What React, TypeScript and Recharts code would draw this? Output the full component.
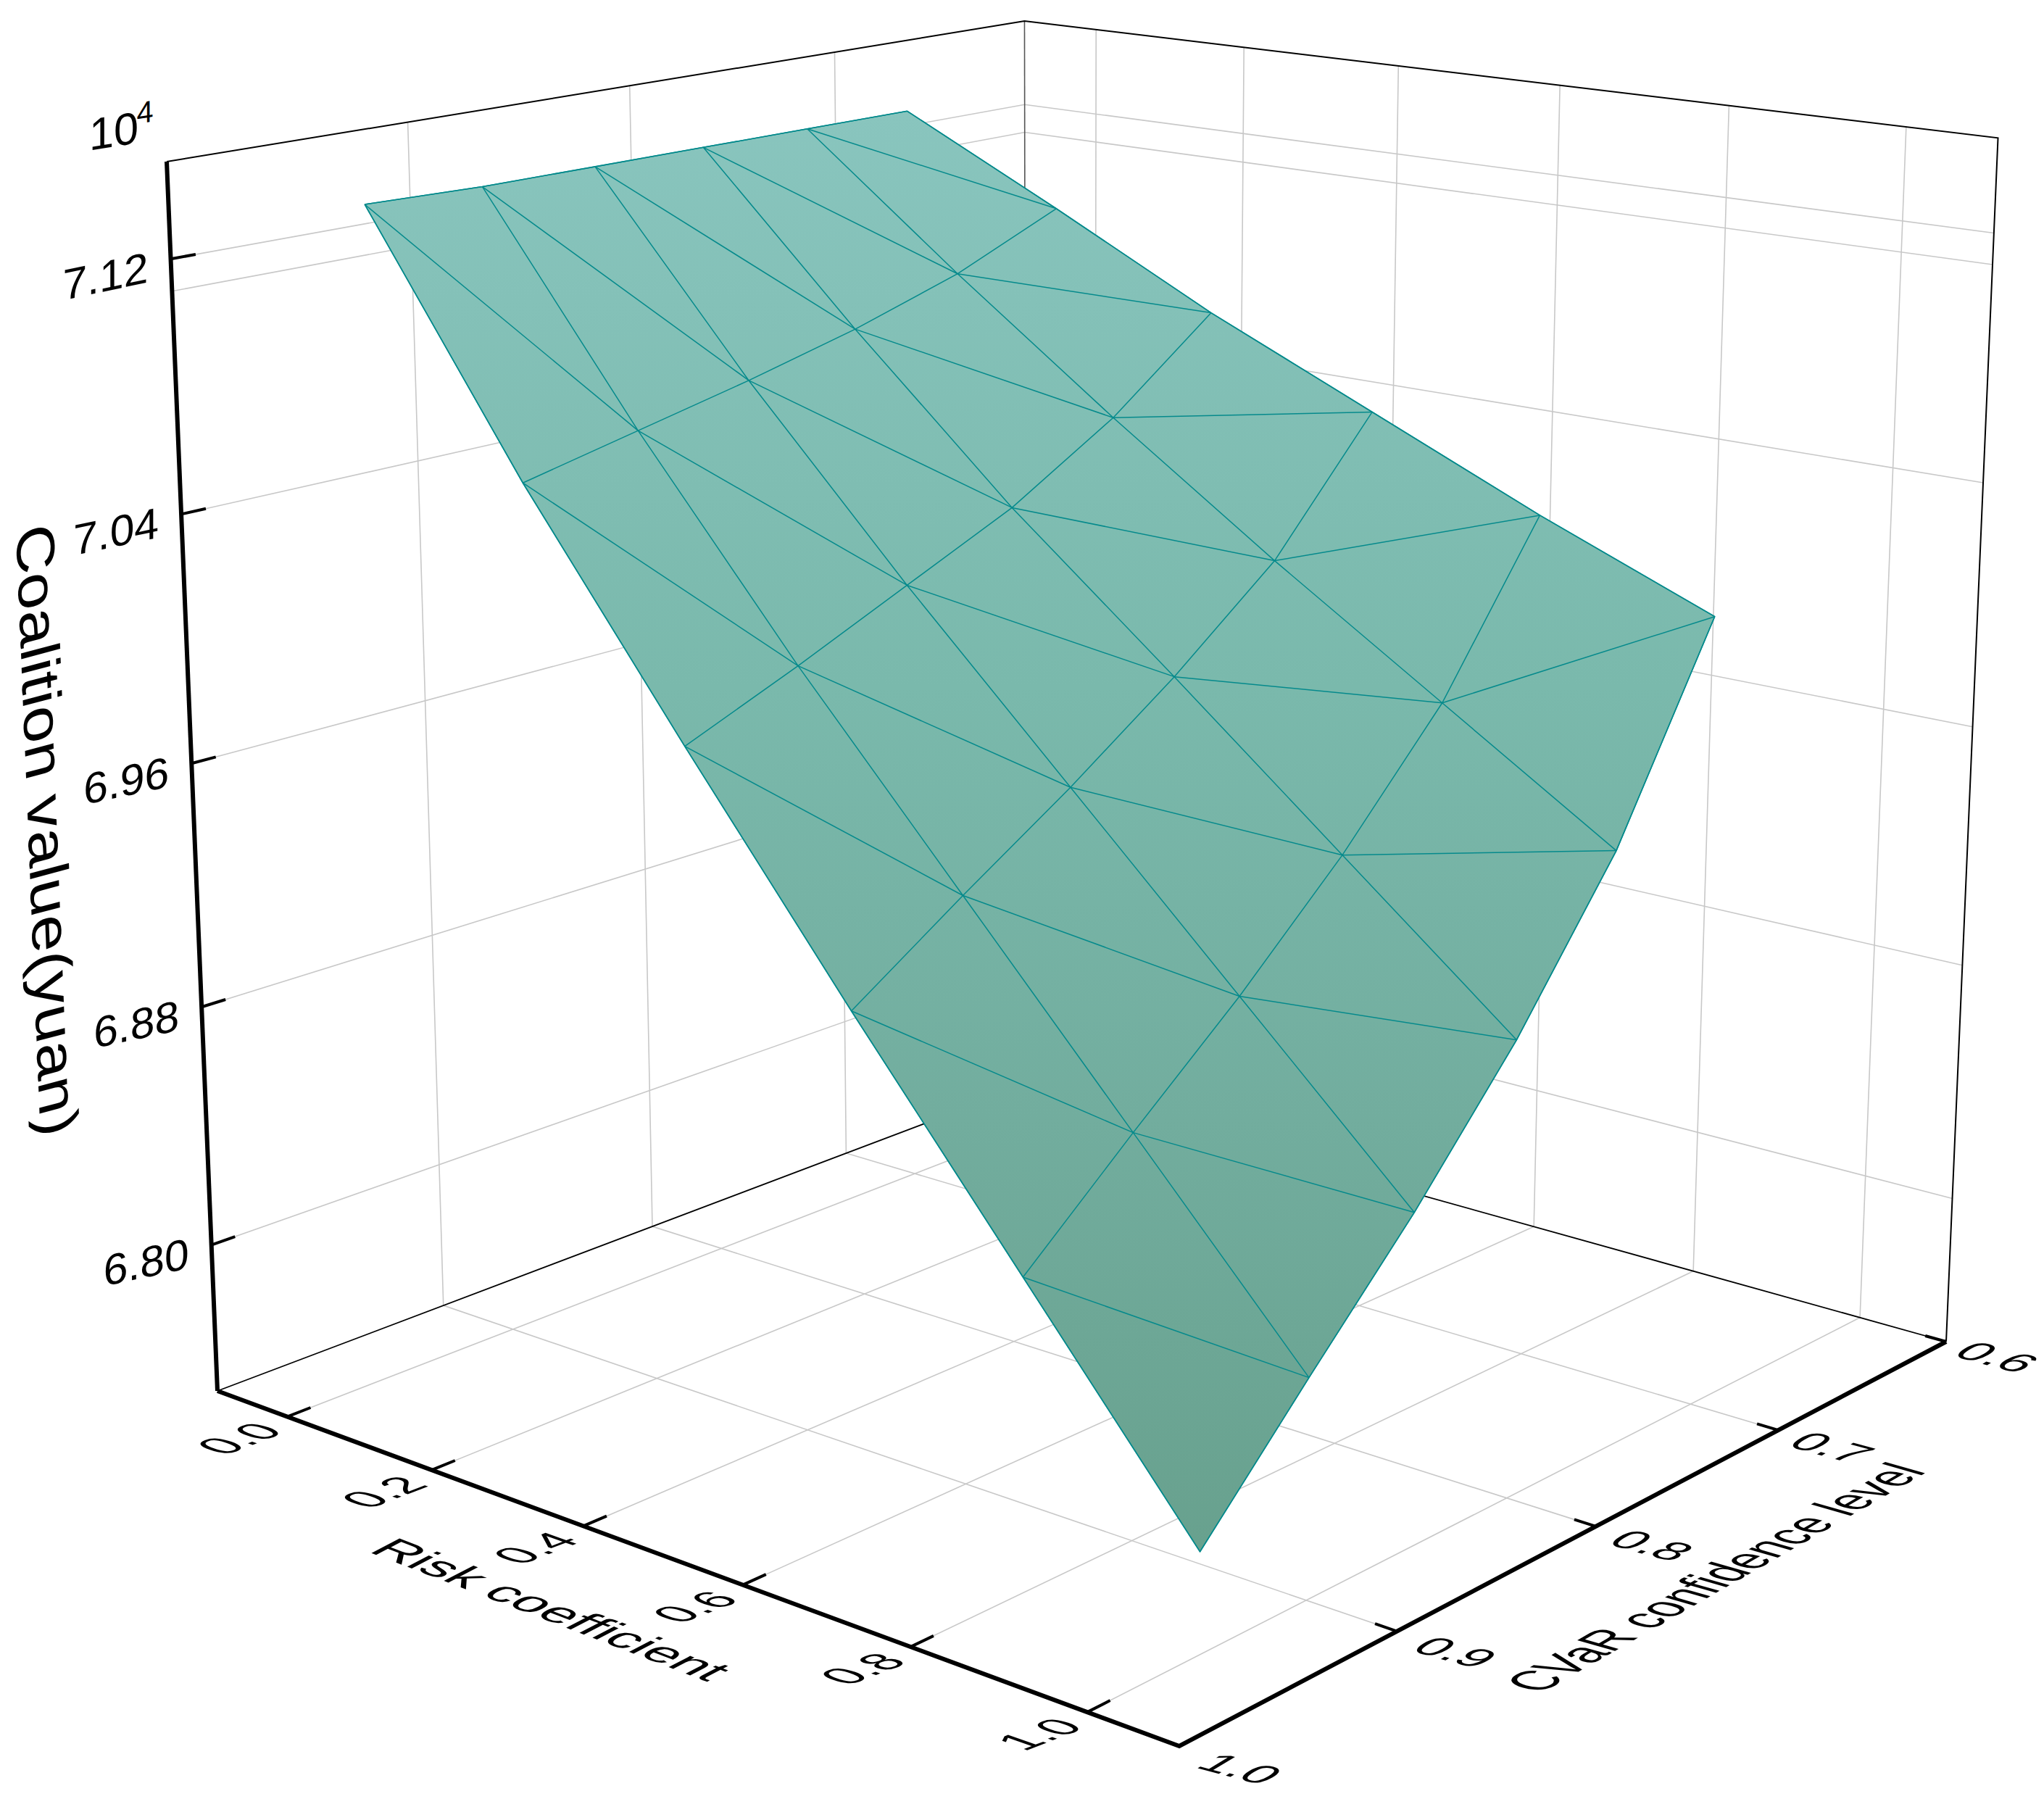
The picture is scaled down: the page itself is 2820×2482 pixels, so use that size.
import React from "react";
import { ScatterChart, Scatter, XAxis, YAxis } from "recharts";

const W = 2820;
const H = 2482;

const riskTicks = [0, 0.2, 0.4, 0.6, 0.8, 1];
const confTicks = [1, 0.9, 0.8, 0.7, 0.6];
const zTicks = [7.12, 7.04, 6.96, 6.88, 6.8];
const zGrid = [7.12, 7.11, 7.04, 6.96, 6.88, 6.8];
const riskGrid = [0, 0.2, 0.4, 0.6, 0.8, 1];
const confGrid = [0.95, 0.9, 0.85, 0.8, 0.75, 0.7];

const valuesRisk00 = [7.134, 7.133, 7.133, 7.133, 7.133, 7.133];
const valuesRisk02 = [7.056, 7.064, 7.072, 7.081, 7.092, 7.107];
const valuesRisk04 = [6.985, 7.0, 7.016, 7.032, 7.053, 7.08];
const valuesRisk06 = [6.916, 6.94, 6.963, 6.988, 7.016, 7.056];
const valuesRisk08 = [6.849, 6.88, 6.91, 6.943, 6.981, 7.032];
const valuesRisk10 = [6.782, 6.82, 6.857, 6.898, 6.946, 7.01];
const coalitionValues = [valuesRisk00, valuesRisk02, valuesRisk04, valuesRisk06, valuesRisk08, valuesRisk10];

const riskMin = -0.1, riskMax = 1.1, confMin = 0.6, confMax = 1, zMin = 6.75, zMax = 7.15;

// camera calibration: where the box corners land on the page
const A = [300, 1919], B = [1627, 2409], C = [2685, 1851], D = [1416, 1497], Et = [230, 223], Ct = [2760, 196];

type V3 = number[];
const hom = (p: number[]): V3 => [p[0] / 1000, p[1] / 1000, 1];
const det3 = (a: V3, b: V3, c: V3) =>
  a[0] * (b[1] * c[2] - b[2] * c[1]) - a[1] * (b[0] * c[2] - b[2] * c[0]) + a[2] * (b[0] * c[1] - b[1] * c[0]);
const sub = (a: V3, b: V3) => a.map((v, i) => v - b[i]);
const scale = (a: V3, s: number) => a.map((v) => v * s);
const dot = (a: V3, b: V3) => a[0] * b[0] + a[1] * b[1] + a[2] * b[2];

const ha = hom(A), hb = hom(B), hc = hom(C), hd = hom(D), he = hom(Et), hct = hom(Ct);
const d0 = det3(hb, hd, ha);
const wB = det3(hc, hd, ha) / d0;
const wD = det3(hb, hc, ha) / d0;
const wA = -det3(hb, hd, hc) / d0;
const P0 = scale(ha, wA);
const Pu = sub(scale(hb, wB), P0);
const Pv = sub(scale(hd, wD), P0);
const R = sub(P0, hc);
const a11 = dot(he, he), a12 = -dot(he, hct), a22 = dot(hct, hct);
const b1 = dot(he, R), b2 = -dot(hct, R);
const wE = (b1 * a22 - b2 * a12) / (a11 * a22 - a12 * a12);
const Pw = sub(scale(he, wE), P0);

const project = (risk: number, conf: number, z: number) => {
  const u = (risk - riskMin) / (riskMax - riskMin);
  const v = (confMax - conf) / (confMax - confMin);
  const w = (z - zMin) / (zMax - zMin);
  const h = [0, 1, 2].map((i) => P0[i] + u * Pu[i] + v * Pv[i] + w * Pw[i]);
  return { x: (1000 * h[0]) / h[2], y: (1000 * h[1]) / h[2] };
};
const shift = (p: { x: number; y: number }, dx: number, dy: number, label: string) => ({ x: p.x + dx, y: p.y + dy, label });

const vertex = (i: number, j: number) => project(riskGrid[i], confGrid[j], coalitionValues[i][j]);
const idx = riskGrid.map((_, i) => i);
const jdx = confGrid.map((_, j) => j);
const last = confGrid.length - 1;

const surfaceOutline = [
  ...jdx.map((j) => vertex(0, j)),
  ...idx.map((i) => vertex(i, last)),
  ...jdx.map((j) => vertex(last, last - j)),
  ...idx.map((i) => vertex(last - i, 0)),
];
const meshRows = idx.map((i) => jdx.map((j) => vertex(i, j)));
const meshCols = jdx.map((j) => idx.map((i) => vertex(i, j)));
const meshDiagonals = idx.slice(0, -1).flatMap((i) => jdx.slice(0, -1).map((j) => [vertex(i, j), vertex(i + 1, j + 1)]));

const gridLines = [
  ...riskTicks.map((r) => [project(r, confMax, zMin), project(r, confMin, zMin), project(r, confMin, zMax)]),
  ...confTicks.slice(1, -1).map((c) => [project(riskMax, c, zMin), project(riskMin, c, zMin), project(riskMin, c, zMax)]),
  ...zGrid.map((z) => [project(riskMin, confMax, z), project(riskMin, confMin, z), project(riskMax, confMin, z)]),
];
const topEdges = [project(riskMin, confMax, zMax), project(riskMin, confMin, zMax), project(riskMax, confMin, zMax), project(riskMax, confMin, zMin)];
const floorEdges = [project(riskMin, confMax, zMin), project(riskMin, confMin, zMin), project(riskMax, confMin, zMin)];
const backEdge = [project(riskMin, confMin, zMin), project(riskMin, confMin, zMax)];
const zAxisLine = [project(riskMin, confMax, zMax), project(riskMin, confMax, zMin)];
const floorAxes = [project(riskMin, confMax, zMin), project(riskMax, confMax, zMin), project(riskMax, confMin, zMin)];
const tickMarks = [
  ...zTicks.map((z) => [project(riskMin, confMax, z), project(riskMin, 0.99, z)]),
  ...riskTicks.map((r) => [project(r, confMax, zMin), project(r, 0.99, zMin)]),
  ...confTicks.slice(1).map((c) => [project(riskMax, c, zMin), project(1.076, c, zMin)]),
];

const zLabels = zTicks.map((z) => shift(project(riskMin, confMax, z), -90, 23, z.toFixed(2)));
const riskLabels = riskTicks.map((r) => shift(project(r, confMax, zMin), -67, 30, r.toFixed(1)));
const confLabels = confTicks.map((c) => shift(project(riskMax, c, zMin), 71 + (c - 0.6) * 35, 21 + (c - 0.6) * 25, c.toFixed(1)));
const exponentBase = [shift(project(riskMin, confMax, zMax), -73, -43, "10")];
const exponentPower = [shift(project(riskMin, confMax, zMax), -30, -69, "4")];
const zTitle = [shift(project(riskMin, confMax, 6.95), -227, 56, "Coalition value(yuan)")];
const riskTitle = [shift(project(0.5, confMax, zMin), -172, 85, "Risk coefficient")];
const confTitle = [shift(project(riskMax, 0.8, zMin), 190, 78, "CVaR confidence level")];

const noDot = () => <g />;

const textShape = (m: number[], size: number, dy: string) => (p: any) => (
  <text
    transform={`matrix(${m[0]} ${m[1]} ${m[2]} ${m[3]} ${p.cx} ${p.cy})`}
    fontSize={size}
    fontFamily="Liberation Sans"
    textAnchor="middle"
    dy={dy}
    fill="#000"
  >
    {p.payload.label}
  </text>
);

const Polyline = (points: { x: number; y: number }[], stroke: string, width: number, key: string) => (
  <Scatter
    key={key}
    data={points}
    line={{ stroke, strokeWidth: width, fill: "none" }}
    shape={noDot}
    isAnimationActive={false}
  />
);

const Labels = (data: any[], m: number[], size: number, key: string, dy = ".36em") => (
  <Scatter key={key} data={data} shape={textShape(m, size, dy)} isAnimationActive={false} />
);

export default function App() {
  return (
    <div style={{ position: "absolute", left: 0, top: 0, width: W, height: H, background: "#fff" }}>
      <ScatterChart width={W} height={H} margin={{ top: 0, right: 0, bottom: 0, left: 0 }}>
        <defs>
          <linearGradient id="surfaceFill" gradientUnits="userSpaceOnUse" x1="0" y1="150" x2="0" y2="2140">
            <stop offset="0" stopColor="#89c5be" />
            <stop offset="0.4" stopColor="#7ab9ac" />
            <stop offset="0.7" stopColor="#72ad9e" />
            <stop offset="1" stopColor="#68a18e" />
          </linearGradient>
        </defs>
        <XAxis type="number" dataKey="x" domain={[0, W]} hide />
        <YAxis type="number" dataKey="y" domain={[0, H]} reversed hide />

        {gridLines.map((l, i) => Polyline(l, "#c8c8c8", 1.6, `grid-${i}`))}
        {Polyline(backEdge, "#555", 1.6, "back")}
        {Polyline(topEdges, "#000", 2, "top")}
        {Polyline(floorEdges, "#000", 1.8, "floor")}

        <Scatter
          data={surfaceOutline}
          line={{ fill: "url(#surfaceFill)", stroke: "#058a8c", strokeWidth: 1.6 }}
          shape={noDot}
          isAnimationActive={false}
        />
        {meshRows.map((l, i) => Polyline(l, "#058a8c", 1.5, `row-${i}`))}
        {meshCols.map((l, i) => Polyline(l, "#058a8c", 1.5, `col-${i}`))}
        {meshDiagonals.map((l, i) => Polyline(l, "#058a8c", 1.5, `diag-${i}`))}

        {Polyline(zAxisLine, "#000", 6, "z-axis")}
        {Polyline(floorAxes, "#000", 6, "floor-axes")}
        {tickMarks.map((l, i) => Polyline(l, "#000", 4, `tick-${i}`))}

        {Labels(zLabels, [0.978, -0.208, 0, 0.97], 62, "z-labels")}
        {Labels(riskLabels, [0.934, -0.358, 0.94, 0.33], 66, "risk-labels")}
        {Labels(confLabels, [0.966, 0.26, -0.7, 0.42], 70, "conf-labels")}
        {Labels(exponentBase, [0.988, -0.156, 0, 1], 62, "exp-base")}
        {Labels(exponentPower, [0.988, -0.156, 0, 1], 42, "exp-power")}
        {Labels(zTitle, [0.04, 1, -0.83, 0.22], 89.5, "z-title", "0")}
        {Labels(riskTitle, [0.933, 0.358, -0.75, 0.39], 75, "risk-title", "0")}
        {Labels(confTitle, [0.867, -0.497, 1.23, 0.35], 61.5, "conf-title", "0")}
      </ScatterChart>
    </div>
  );
}
